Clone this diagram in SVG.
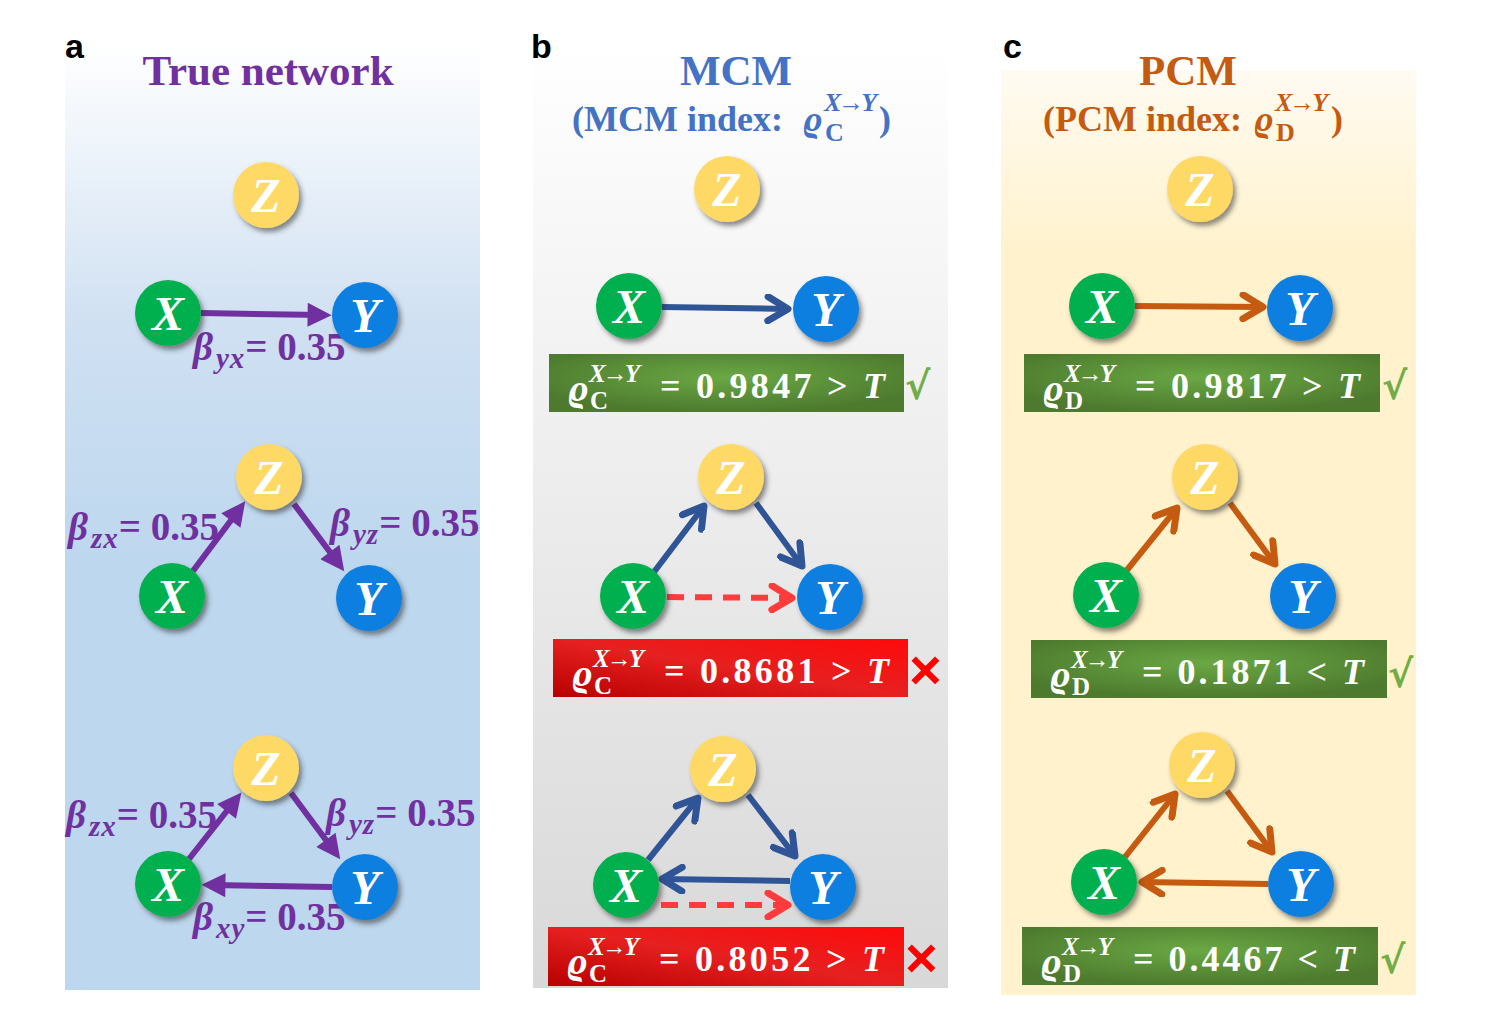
<svg xmlns="http://www.w3.org/2000/svg" width="1500" height="1022" viewBox="0 0 1500 1022">
<defs>
<linearGradient id="bgA" x1="0" y1="0" x2="0" y2="1"><stop offset="0" stop-color="#ffffff"/><stop offset="0.3" stop-color="#cfe0f2"/><stop offset="0.55" stop-color="#bdd7ee"/><stop offset="1" stop-color="#bdd7ee"/></linearGradient>
<linearGradient id="bgB" x1="0" y1="0" x2="0" y2="1"><stop offset="0" stop-color="#ffffff"/><stop offset="1" stop-color="#d8d8d8"/></linearGradient>
<linearGradient id="bgC" x1="0" y1="0" x2="0" y2="1"><stop offset="0" stop-color="#fffbf2"/><stop offset="0.2" stop-color="#fff2cc"/><stop offset="1" stop-color="#fff2cc"/></linearGradient>
<radialGradient id="gGreen" cx="0.5" cy="0.4" r="0.6"><stop offset="0" stop-color="#6aa844"/><stop offset="1" stop-color="#4d7a2e"/></radialGradient>
<linearGradient id="gRed" x1="0" y1="1" x2="1" y2="0"><stop offset="0" stop-color="#b80000"/><stop offset="0.5" stop-color="#e62020"/><stop offset="1" stop-color="#ff0a0a"/></linearGradient>
<filter id="sh" x="-30%" y="-30%" width="160%" height="160%"><feDropShadow dx="3" dy="4" stdDeviation="2.5" flood-color="#333" flood-opacity="0.55"/></filter>
<marker id="triP" viewBox="0 0 20 20" markerUnits="userSpaceOnUse" markerWidth="26" markerHeight="24" refX="12" refY="10" orient="auto"><path d="M0,0 L20,10 L0,20 z" fill="#7030a0"/></marker>
<marker id="chB" viewBox="0 0 30 30" markerUnits="userSpaceOnUse" markerWidth="30" markerHeight="30" refX="25" refY="15" orient="auto"><path d="M5,3 L25,15 L5,27" fill="none" stroke="#2f5597" stroke-width="7" stroke-linecap="round" stroke-linejoin="round"/></marker>
<marker id="chR" viewBox="0 0 30 30" markerUnits="userSpaceOnUse" markerWidth="30" markerHeight="30" refX="25" refY="15" orient="auto"><path d="M5,3 L25,15 L5,27" fill="none" stroke="#ff3b3b" stroke-width="7" stroke-linecap="round" stroke-linejoin="round"/></marker>
<marker id="chO" viewBox="0 0 30 30" markerUnits="userSpaceOnUse" markerWidth="30" markerHeight="30" refX="25" refY="15" orient="auto"><path d="M5,3 L25,15 L5,27" fill="none" stroke="#c55a11" stroke-width="7" stroke-linecap="round" stroke-linejoin="round"/></marker>
</defs>
<style>
.nz{fill:#ffd966;filter:url(#sh)}
.nx{fill:#00b050;filter:url(#sh)}
.ny{fill:#0a7fe0;filter:url(#sh)}
.nl{font-family:"Liberation Serif","DejaVu Serif",serif;font-style:italic;font-weight:bold;font-size:48px;fill:#ffffff;text-anchor:middle}
.pl{font-family:"Liberation Sans",Arial,sans-serif;font-weight:bold;font-size:34px;fill:#000}
.ser{font-family:"Liberation Serif","DejaVu Serif",serif;font-weight:bold}
.it{font-style:italic}
.ap{stroke:#7030a0;stroke-width:6;fill:none;marker-end:url(#triP)}
.ab{stroke:#2f5597;stroke-width:6;fill:none;marker-end:url(#chB)}
.ar{stroke:#ff3b3b;stroke-width:6;fill:none;stroke-dasharray:17 11;marker-end:url(#chR)}
.ao{stroke:#c55a11;stroke-width:6;fill:none;marker-end:url(#chO)}
.beta{font-family:"Liberation Serif","DejaVu Serif",serif;font-weight:bold;font-size:39px;fill:#7030a0}
.bx{font-family:"Liberation Serif","DejaVu Serif",serif;font-weight:bold;fill:#ffffff}
.ok{font-family:"DejaVu Sans",sans-serif;font-weight:bold;font-size:38px;fill:#70ad47}
.no{font-family:"Liberation Sans",sans-serif;font-weight:bold;font-size:56px;fill:#ff0000}
</style>
<rect width="1500" height="1022" fill="#ffffff"/>
<g id="panels">
<rect x="65" y="45" width="415" height="945" fill="url(#bgA)"/>
<rect x="533" y="45" width="415" height="943" fill="url(#bgB)"/>
<rect x="1001" y="70" width="415" height="925" fill="url(#bgC)"/>
</g>
<g id="headers">
<text class="pl" x="65" y="58">a</text>
<text class="pl" x="531" y="58">b</text>
<text class="pl" x="1003" y="58">c</text>
<text class="ser" x="268" y="85" font-size="43" fill="#7030a0" text-anchor="middle">True network</text>
<text class="ser" x="736" y="85" font-size="43" fill="#4472c4" text-anchor="middle">MCM</text>
<text class="ser" font-size="36" fill="#4472c4"><tspan x="572" y="131">(MCM  index: </tspan><tspan x="803" y="131" class="it">ϱ</tspan><tspan x="824" y="111" font-size="26" class="it" letter-spacing="-3">X→Y</tspan><tspan x="825" y="141" font-size="26">C</tspan><tspan x="879" y="131">)</tspan></text>
<text class="ser" x="1188" y="85" font-size="43" fill="#c55a11" text-anchor="middle">PCM</text>
<text class="ser" font-size="36" fill="#c55a11"><tspan x="1043" y="131">(PCM index: </tspan><tspan x="1254" y="131" class="it">ϱ</tspan><tspan x="1275" y="111" font-size="26" class="it" letter-spacing="-3">X→Y</tspan><tspan x="1276" y="141" font-size="26">D</tspan><tspan x="1331" y="131">)</tspan></text>
</g>
<g id="connectors">
<line class="ap" x1="201" y1="313" x2="322" y2="315"/>
<line class="ap" x1="193" y1="571" x2="239.5" y2="509"/>
<line class="ap" x1="294" y1="504" x2="338.5" y2="563.5"/>
<line class="ap" x1="189" y1="859" x2="235.5" y2="800"/>
<line class="ap" x1="291" y1="793" x2="334.5" y2="851.5"/>
<line class="ap" x1="332" y1="887" x2="211" y2="885"/>
<line class="ab" x1="662" y1="307" x2="788" y2="309"/>
<line class="ab" x1="654" y1="572" x2="704" y2="506"/>
<line class="ab" x1="756" y1="503" x2="802" y2="566"/>
<line class="ar" x1="667" y1="597" x2="792" y2="598"/>
<line class="ab" x1="648" y1="860" x2="698" y2="798"/>
<line class="ab" x1="748" y1="795" x2="795" y2="856"/>
<line class="ab" x1="790" y1="881" x2="662" y2="879"/>
<line class="ar" x1="661" y1="905" x2="788" y2="905"/>
<line class="ao" x1="1135" y1="306" x2="1263" y2="307"/>
<line class="ao" x1="1127" y1="570" x2="1177" y2="508"/>
<line class="ao" x1="1230" y1="503" x2="1275" y2="564"/>
<line class="ao" x1="1125" y1="857" x2="1175" y2="794"/>
<line class="ao" x1="1227" y1="791" x2="1272" y2="852"/>
<line class="ao" x1="1268" y1="884" x2="1142" y2="882"/>
</g>
<g id="beta-labels">
<text class="beta" x="193" y="360"><tspan class="it">β</tspan><tspan class="it" font-size="29" dx="3" dy="8" letter-spacing="1">yx</tspan><tspan dy="-8">= 0.35</tspan></text>
<text class="beta" x="68" y="540"><tspan class="it">β</tspan><tspan class="it" font-size="29" dx="3" dy="8" letter-spacing="1">zx</tspan><tspan dy="-8">= 0.35</tspan></text>
<text class="beta" x="330" y="536"><tspan class="it">β</tspan><tspan class="it" font-size="29" dx="3" dy="8" letter-spacing="1">yz</tspan><tspan dy="-8">= 0.35</tspan></text>
<text class="beta" x="66" y="828"><tspan class="it">β</tspan><tspan class="it" font-size="29" dx="3" dy="8" letter-spacing="1">zx</tspan><tspan dy="-8">= 0.35</tspan></text>
<text class="beta" x="326" y="826"><tspan class="it">β</tspan><tspan class="it" font-size="29" dx="3" dy="8" letter-spacing="1">yz</tspan><tspan dy="-8">= 0.35</tspan></text>
<text class="beta" x="193" y="930"><tspan class="it">β</tspan><tspan class="it" font-size="29" dx="3" dy="8" letter-spacing="1">xy</tspan><tspan dy="-8">= 0.35</tspan></text>
</g>
<g id="nodes-a">
<g id="a1-z"><circle class="nz" cx="266" cy="195" r="33"/><text class="nl" x="266" y="212">Z</text></g>
<g id="a1-x"><circle class="nx" cx="168" cy="313" r="33"/><text class="nl" x="168" y="330">X</text></g>
<g id="a1-y"><circle class="ny" cx="365" cy="315" r="33"/><text class="nl" x="365" y="332">Y</text></g>
<g id="a2-z"><circle class="nz" cx="269" cy="477" r="33"/><text class="nl" x="269" y="494">Z</text></g>
<g id="a2-x"><circle class="nx" cx="172" cy="596" r="33"/><text class="nl" x="172" y="613">X</text></g>
<g id="a2-y"><circle class="ny" cx="369" cy="598" r="33"/><text class="nl" x="369" y="615">Y</text></g>
<g id="a3-z"><circle class="nz" cx="266" cy="768" r="33"/><text class="nl" x="266" y="785">Z</text></g>
<g id="a3-x"><circle class="nx" cx="168" cy="884" r="33"/><text class="nl" x="168" y="901">X</text></g>
<g id="a3-y"><circle class="ny" cx="365" cy="887" r="33"/><text class="nl" x="365" y="904">Y</text></g>
</g>
<g id="nodes-b">
<g id="b1-z"><circle class="nz" cx="727" cy="189" r="33"/><text class="nl" x="727" y="206">Z</text></g>
<g id="b1-x"><circle class="nx" cx="629" cy="306" r="33"/><text class="nl" x="629" y="323">X</text></g>
<g id="b1-y"><circle class="ny" cx="826" cy="309" r="33"/><text class="nl" x="826" y="326">Y</text></g>
<g id="b2-z"><circle class="nz" cx="731" cy="477" r="33"/><text class="nl" x="731" y="494">Z</text></g>
<g id="b2-x"><circle class="nx" cx="633" cy="596" r="33"/><text class="nl" x="633" y="613">X</text></g>
<g id="b2-y"><circle class="ny" cx="830" cy="597" r="33"/><text class="nl" x="830" y="614">Y</text></g>
<g id="b3-z"><circle class="nz" cx="723" cy="769" r="33"/><text class="nl" x="723" y="786">Z</text></g>
<g id="b3-x"><circle class="nx" cx="626" cy="885" r="33"/><text class="nl" x="626" y="902">X</text></g>
<g id="b3-y"><circle class="ny" cx="823" cy="887" r="33"/><text class="nl" x="823" y="904">Y</text></g>
</g>
<g id="nodes-c">
<g id="c1-z"><circle class="nz" cx="1200" cy="189" r="33"/><text class="nl" x="1200" y="206">Z</text></g>
<g id="c1-x"><circle class="nx" cx="1102" cy="306" r="33"/><text class="nl" x="1102" y="323">X</text></g>
<g id="c1-y"><circle class="ny" cx="1300" cy="308" r="33"/><text class="nl" x="1300" y="325">Y</text></g>
<g id="c2-z"><circle class="nz" cx="1205" cy="477" r="33"/><text class="nl" x="1205" y="494">Z</text></g>
<g id="c2-x"><circle class="nx" cx="1106" cy="595" r="33"/><text class="nl" x="1106" y="612">X</text></g>
<g id="c2-y"><circle class="ny" cx="1303" cy="596" r="33"/><text class="nl" x="1303" y="613">Y</text></g>
<g id="c3-z"><circle class="nz" cx="1202" cy="765" r="33"/><text class="nl" x="1202" y="782">Z</text></g>
<g id="c3-x"><circle class="nx" cx="1104" cy="882" r="33"/><text class="nl" x="1104" y="899">X</text></g>
<g id="c3-y"><circle class="ny" cx="1301" cy="884" r="33"/><text class="nl" x="1301" y="901">Y</text></g>
</g>
<g id="results">
<g id="b1-res"><rect x="549" y="354" width="355" height="58" fill="url(#gGreen)"/>
<text class="bx"><tspan x="568" y="401" font-size="38" class="it">ϱ</tspan><tspan x="589" y="382" font-size="25" class="it" letter-spacing="-3">X→Y</tspan><tspan x="590" y="409" font-size="25">C</tspan><tspan x="660" y="398" font-size="36" textLength="225" lengthAdjust="spacing">= 0.9847 &gt; <tspan class="it">T</tspan></tspan></text>
<text class="ok" x="905" y="399">√</text></g>
<g id="b2-res"><rect x="553" y="639" width="355" height="58" fill="url(#gRed)"/>
<text class="bx"><tspan x="572" y="686" font-size="38" class="it">ϱ</tspan><tspan x="593" y="667" font-size="25" class="it" letter-spacing="-3">X→Y</tspan><tspan x="594" y="694" font-size="25">C</tspan><tspan x="664" y="683" font-size="36" textLength="225" lengthAdjust="spacing">= 0.8681 &gt; <tspan class="it">T</tspan></tspan></text>
<text class="no" x="909" y="689">×</text></g>
<g id="b3-res"><rect x="548" y="927" width="356" height="59" fill="url(#gRed)"/>
<text class="bx"><tspan x="567" y="974" font-size="38" class="it">ϱ</tspan><tspan x="588" y="955" font-size="25" class="it" letter-spacing="-3">X→Y</tspan><tspan x="589" y="982" font-size="25">C</tspan><tspan x="659" y="971" font-size="36" textLength="225" lengthAdjust="spacing">= 0.8052 &gt; <tspan class="it">T</tspan></tspan></text>
<text class="no" x="905" y="977">×</text></g>
<g id="c1-res"><rect x="1024" y="354" width="356" height="58" fill="url(#gGreen)"/>
<text class="bx"><tspan x="1043" y="401" font-size="38" class="it">ϱ</tspan><tspan x="1064" y="382" font-size="25" class="it" letter-spacing="-3">X→Y</tspan><tspan x="1065" y="409" font-size="25">D</tspan><tspan x="1135" y="398" font-size="36" textLength="225" lengthAdjust="spacing">= 0.9817 &gt; <tspan class="it">T</tspan></tspan></text>
<text class="ok" x="1382" y="399">√</text></g>
<g id="c2-res"><rect x="1031" y="640" width="356" height="58" fill="url(#gGreen)"/>
<text class="bx"><tspan x="1050" y="687" font-size="38" class="it">ϱ</tspan><tspan x="1071" y="668" font-size="25" class="it" letter-spacing="-3">X→Y</tspan><tspan x="1072" y="695" font-size="25">D</tspan><tspan x="1142" y="684" font-size="36" textLength="222" lengthAdjust="spacing">= 0.1871 &lt; <tspan class="it">T</tspan></tspan></text>
<text class="ok" x="1388" y="687">√</text></g>
<g id="c3-res"><rect x="1022" y="927" width="356" height="58" fill="url(#gGreen)"/>
<text class="bx"><tspan x="1041" y="974" font-size="38" class="it">ϱ</tspan><tspan x="1062" y="955" font-size="25" class="it" letter-spacing="-3">X→Y</tspan><tspan x="1063" y="982" font-size="25">D</tspan><tspan x="1133" y="971" font-size="36" textLength="222" lengthAdjust="spacing">= 0.4467 &lt; <tspan class="it">T</tspan></tspan></text>
<text class="ok" x="1380" y="973">√</text></g>
</g>
</svg>
